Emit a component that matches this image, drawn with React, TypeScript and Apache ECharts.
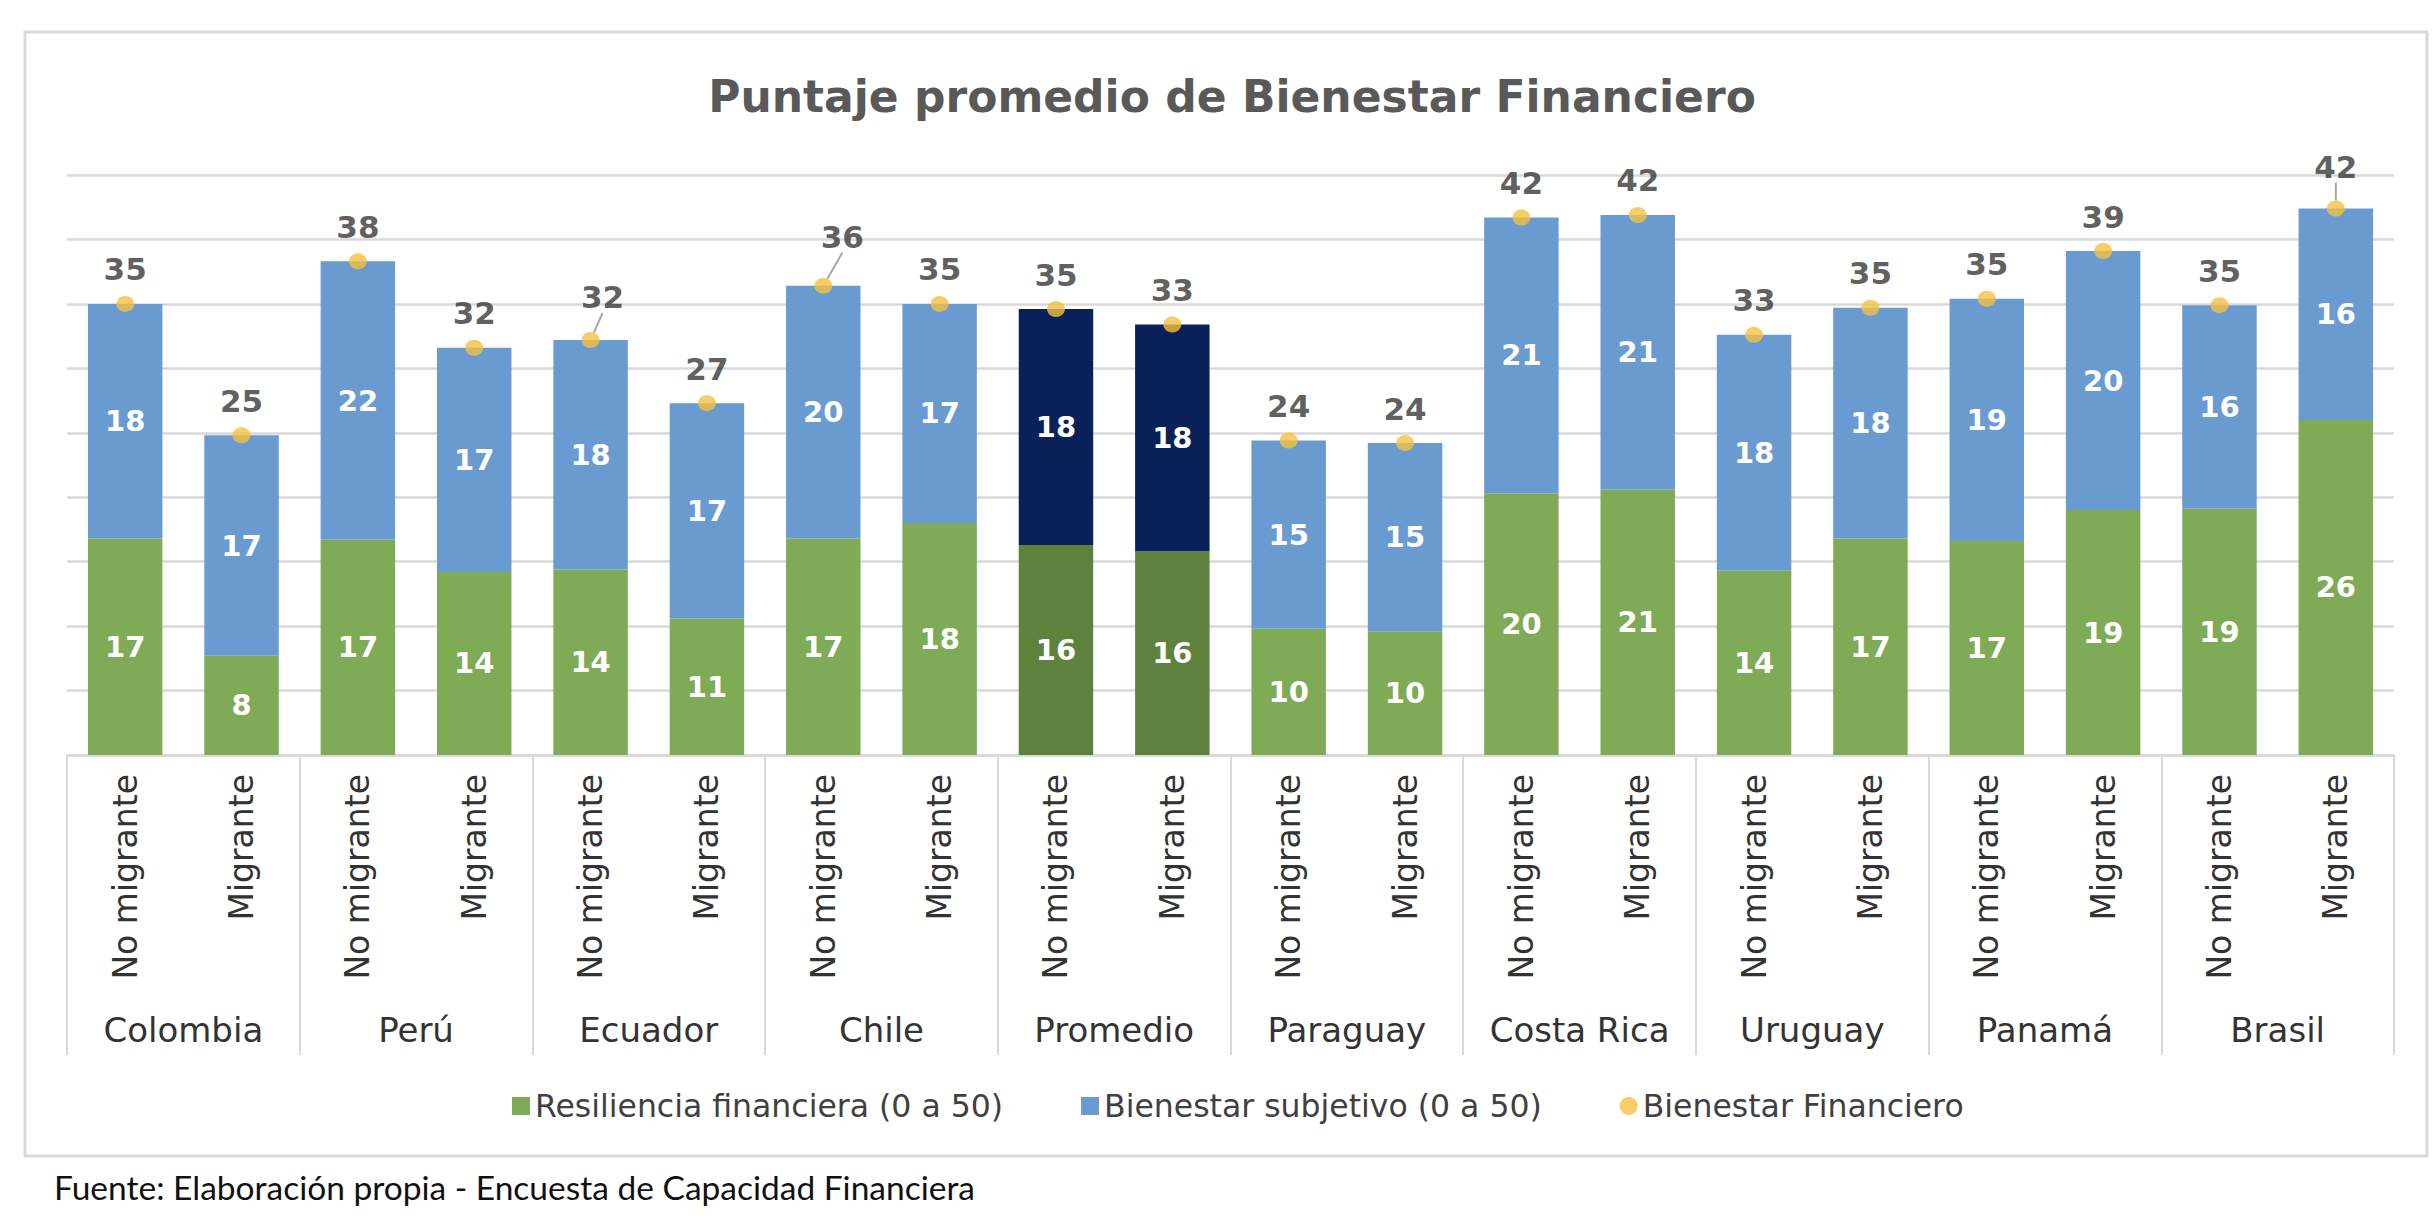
import React, { useEffect, useRef } from "react";
import * as echarts from "echarts";

const TITLE = "Puntaje promedio de Bienestar Financiero";
const FOOTER = "Fuente: Elaboración propia - Encuesta de Capacidad Financiera";

const countries = ["Colombia", "Perú", "Ecuador", "Chile", "Promedio", "Paraguay", "Costa Rica", "Uruguay", "Panamá", "Brasil"];
const groups = countries.flatMap(() => ["No migrante", "Migrante"]);

const seriesNames = ["Resiliencia financiera (0 a 50)", "Bienestar subjetivo (0 a 50)", "Bienestar Financiero"];

const resiliencia = [16.8, 7.7, 16.7, 14.2, 14.4, 10.6, 16.8, 18.0, 16.3, 15.8, 9.8, 9.6, 20.3, 20.6, 14.3, 16.8, 16.6, 19.0, 19.1, 26.0];
const subjetivo = [18.2, 17.1, 21.6, 17.4, 17.8, 16.7, 19.6, 17.0, 18.3, 17.6, 14.6, 14.6, 21.4, 21.3, 18.3, 17.9, 18.8, 20.1, 15.8, 16.4];
const financiero = [35.0, 24.8, 38.3, 31.6, 32.2, 27.3, 36.4, 35.0, 34.6, 33.4, 24.4, 24.2, 41.7, 41.9, 32.6, 34.7, 35.4, 39.1, 34.9, 42.4];

const highlightIdx = [8, 9];
const nudges: Record<number, [number, number]> = { 4: [12, -8], 6: [19, -14], 19: [0, -7] };

const FONT = "DejaVu Sans";
const C_GREEN = "#7fab57";
const C_BLUE = "#6a9bd0";
const C_DKGREEN = "#5e823e";
const C_NAVY = "#0a2059";
const C_DOT = "#f4c040";
const C_GRID = "#d9d9d9";

export default function App() {
  const ref = useRef<HTMLDivElement>(null);
  useEffect(() => {
    if (!ref.current) return;
    const chart = echarts.init(ref.current, null, { renderer: "svg" });
    const barLabel = {
      show: true,
      position: "inside",
      color: "#ffffff",
      fontFamily: FONT,
      fontWeight: "bold",
      fontSize: 29,
      formatter: (p: any) => String(Math.round(p.value)),
    };
    const option = {
      animation: false,
      backgroundColor: "#ffffff",
      title: {
        text: TITLE,
        left: 1227,
        textAlign: "center",
        top: 69,
        textStyle: { fontFamily: FONT, fontWeight: "bold", fontSize: 44, color: "#595959" },
      },
      graphic: [
        {
          type: "rect",
          silent: true,
          shape: { x: 25, y: 32, width: 2402, height: 1124 },
          style: { fill: "none", stroke: C_GRID, lineWidth: 3 },
        },
        {
          type: "text",
          x: 54,
          y: 1187,
          style: { text: FOOTER, fontFamily: "Lato", fontSize: 33.5, fill: "#111111", verticalAlign: "middle" },
        },
      ],
      legend: {
        left: 507,
        top: 1085,
        itemWidth: 18,
        itemHeight: 18,
        itemGap: 78,
        textStyle: { fontFamily: FONT, fontSize: 31.5, color: "#404040" },
        data: [
          { name: seriesNames[0], icon: "rect" },
          { name: seriesNames[1], icon: "rect" },
          { name: seriesNames[2], icon: "circle" },
        ],
      },
      grid: { left: 67, right: 38, top: 175, bottom: 469 },
      xAxis: [
        {
          type: "category",
          data: groups,
          axisLine: { show: true, lineStyle: { color: C_GRID, width: 2.5 } },
          axisTick: { show: false },
          axisLabel: {
            interval: 0,
            rotate: 90,
            margin: 19,
            fontFamily: FONT,
            fontSize: 33,
            color: "#333333",
          },
        },
        {
          type: "category",
          data: countries,
          position: "bottom",
          axisLine: { show: false },
          axisTick: { show: true, length: 300, lineStyle: { color: C_GRID, width: 2 } },
          axisLabel: { interval: 0, margin: 258, fontFamily: FONT, fontSize: 34, color: "#333333" },
        },
      ],
      yAxis: {
        type: "value",
        min: 0,
        max: 45,
        interval: 5,
        axisLabel: { show: false },
        axisLine: { show: false },
        axisTick: { show: false },
        splitLine: { lineStyle: { color: C_GRID, width: 2.5 } },
      },
      series: [
        {
          name: seriesNames[0],
          type: "bar",
          stack: "total",
          barWidth: "64%",
          itemStyle: { color: C_GREEN },
          label: barLabel,
          data: resiliencia.map((v, i) =>
            highlightIdx.includes(i) ? { value: v, itemStyle: { color: C_DKGREEN } } : v
          ),
        },
        {
          name: seriesNames[1],
          type: "bar",
          stack: "total",
          barWidth: "64%",
          itemStyle: { color: C_BLUE },
          label: barLabel,
          data: subjetivo.map((v, i) =>
            highlightIdx.includes(i) ? { value: v, itemStyle: { color: C_NAVY } } : v
          ),
        },
        {
          name: seriesNames[2],
          type: "scatter",
          symbol: "circle",
          symbolSize: [18, 16],
          z: 5,
          itemStyle: { color: C_DOT },
          label: {
            show: true,
            position: "top",
            distance: 11,
            color: "#363636",
            fontFamily: FONT,
            fontWeight: "bold",
            fontSize: 31,
            formatter: (p: any) => String(Math.round(p.value)),
          },
          labelLine: { show: false, lineStyle: { color: "#a6a6a6", width: 2 } },
          labelLayout: (p: any) => {
            const n = nudges[p.dataIndex];
            return n ? { dx: n[0], dy: n[1] } : {};
          },
          data: financiero.map((v, i) =>
            nudges[i] ? { value: v, labelLine: { show: true } } : v
          ),
        },
      ],
    };
    chart.setOption(option as any);
    return () => chart.dispose();
  }, []);
  return (
    <div
      ref={ref}
      style={{ position: "fixed", left: 0, top: 0, width: 2432, height: 1224, background: "#fff" }}
    />
  );
}
